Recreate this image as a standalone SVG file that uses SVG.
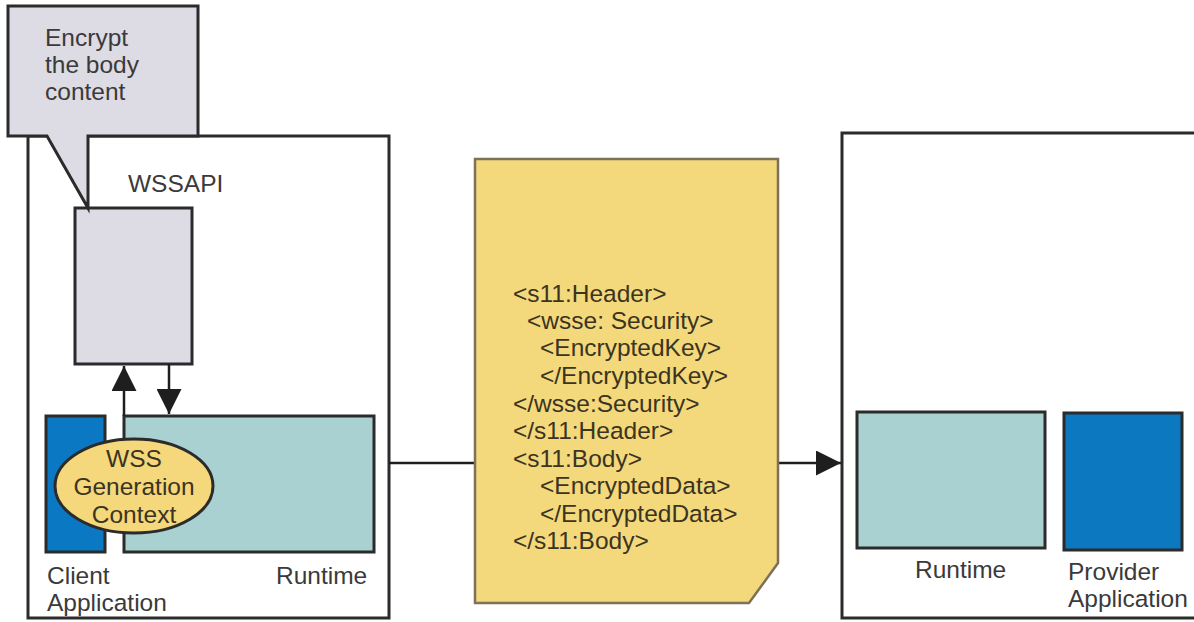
<svg xmlns="http://www.w3.org/2000/svg" width="1194" height="622" viewBox="0 0 1194 622">
<style>
  .lbl { font-family: "Liberation Sans", Arial, sans-serif; font-size: 24.5px; fill: #3a3a3a; }
  .doc { font-family: "Liberation Sans", Arial, sans-serif; font-size: 24.5px; fill: #3b3420; }
  .ctx { font-family: "Liberation Sans", Arial, sans-serif; font-size: 24.5px; fill: #3b3420; text-anchor: middle; }
  .box { stroke: #2b2b2b; stroke-width: 3; }
  .conn { stroke: #1e1e1e; stroke-width: 2.5; fill: none; }
</style>
<defs>
  <marker id="ahBig" viewBox="0 0 10 10" refX="10" refY="5" markerWidth="10" markerHeight="10" orient="auto">
    <path d="M0,0 L10,5 L0,10 z" fill="#1e1e1e"/>
  </marker>
</defs>
<rect width="1194" height="622" fill="#ffffff"/>

<g id="client-container">
  <rect x="28" y="136" width="361" height="482" fill="#ffffff" class="box"/>
  <text class="lbl" x="128" y="192">WSSAPI</text>
  <text class="lbl" x="47" y="584">Client</text>
  <text class="lbl" x="47" y="611">Application</text>
  <text class="lbl" x="276" y="584">Runtime</text>
</g>

<g id="wssapi-box">
  <rect x="75" y="208" width="117" height="156" fill="#dddbe4" class="box"/>
</g>

<g id="client-application">
  <rect x="46" y="416" width="59" height="136" fill="#0b78c4" class="box"/>
</g>

<g id="client-runtime">
  <rect x="124" y="416" width="250" height="136" fill="#a9d1d1" class="box"/>
</g>

<g id="callout">
  <path d="M8,6 L198,6 L198,136 L88,136 L88,208 L47,136 L8,136 Z" fill="#dddbe4" stroke="#2b2b2b" stroke-width="3" stroke-linejoin="miter"/>
  <text class="lbl" x="45" y="46">Encrypt</text>
  <text class="lbl" x="45" y="73">the body</text>
  <text class="lbl" x="45" y="100">content</text>
</g>

<g id="connectors">
  <line x1="124" y1="416" x2="124" y2="366" class="conn" marker-end="url(#ahBig)"/>
  <line x1="169" y1="364" x2="169" y2="414" class="conn" marker-end="url(#ahBig)"/>
  <line x1="389" y1="463" x2="475" y2="463" class="conn"/>
  <line x1="778" y1="463" x2="841" y2="463" class="conn" marker-end="url(#ahBig)"/>
</g>

<g id="wss-context">
  <ellipse cx="134" cy="486" rx="79" ry="47" fill="#f5d77c" stroke="#2b2b2b" stroke-width="3"/>
  <text class="ctx" x="134" y="467">WSS</text>
  <text class="ctx" x="134" y="495">Generation</text>
  <text class="ctx" x="134" y="523">Context</text>
</g>

<g id="soap-message">
  <path d="M475,159 L778,159 L778,563 L749,603 L475,603 Z" fill="#f3d87c" stroke="#7d7257" stroke-width="2.5"/>
  <text class="doc" x="513" y="302">&lt;s11:Header&gt;</text>
  <text class="doc" x="527" y="329">&lt;wsse: Security&gt;</text>
  <text class="doc" x="540" y="356">&lt;EncryptedKey&gt;</text>
  <text class="doc" x="540" y="384">&lt;/EncryptedKey&gt;</text>
  <text class="doc" x="513" y="412">&lt;/wsse:Security&gt;</text>
  <text class="doc" x="513" y="439">&lt;/s11:Header&gt;</text>
  <text class="doc" x="513" y="467">&lt;s11:Body&gt;</text>
  <text class="doc" x="540" y="494">&lt;EncryptedData&gt;</text>
  <text class="doc" x="540" y="522">&lt;/EncryptedData&gt;</text>
  <text class="doc" x="513" y="549">&lt;/s11:Body&gt;</text>
</g>

<g id="provider-container">
  <rect x="842" y="133" width="370" height="485" fill="#ffffff" class="box"/>
  <text class="lbl" x="915" y="578">Runtime</text>
  <text class="lbl" x="1068" y="580">Provider</text>
  <text class="lbl" x="1068" y="607">Application</text>
</g>

<g id="provider-runtime">
  <rect x="857" y="412" width="188" height="136" fill="#a9d1d1" class="box"/>
</g>

<g id="provider-application">
  <rect x="1064" y="413" width="118" height="137" fill="#0b78c0" class="box"/>
</g>
</svg>
